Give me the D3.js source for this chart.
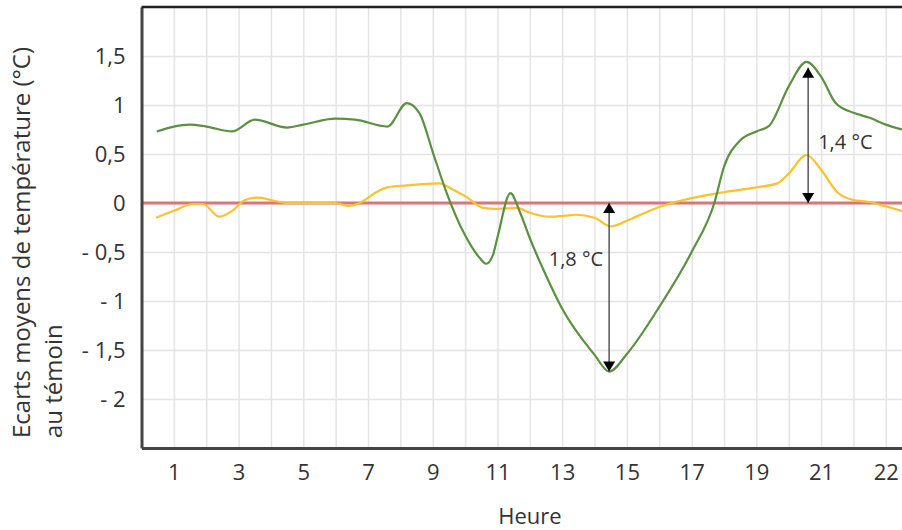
<!DOCTYPE html>
<html>
<head>
<meta charset="utf-8">
<script src="https://cdn.jsdelivr.net/npm/d3@7"></script>
<style>
  html, body { margin: 0; padding: 0; background: #fff; }
  svg { display: block; font-family: "Open Sans", sans-serif; }
</style>
</head>
<body>
<div id="vis"></div>
<script>
var greenHours = [0.47, 1, 1.5, 2, 2.8, 3.5, 4.5, 5, 6, 6.6, 7.6, 8.2, 8.6, 9, 9.4, 10, 10.45, 10.65, 10.85, 11, 11.4, 11.7, 12, 12.5, 13, 14, 14.45, 15, 16, 17, 17.7, 18, 18.5, 19, 19.4, 20, 20.55, 21, 21.45, 22, 22.5, 23, 23.5];
var greenValues = [0.73, 0.78, 0.80, 0.78, 0.73, 0.85, 0.77, 0.80, 0.86, 0.85, 0.78, 1.02, 0.91, 0.52, 0.13, -0.33, -0.56, -0.62, -0.54, -0.35, 0.10, -0.10, -0.36, -0.74, -1.08, -1.55, -1.72, -1.54, -1.06, -0.50, 0.00, 0.37, 0.64, 0.73, 0.79, 1.19, 1.44, 1.29, 1.02, 0.92, 0.87, 0.80, 0.75];

var yellowHours = [0.45, 1, 1.6, 1.9, 2.4, 2.8, 3.2, 3.6, 4, 4.5, 6, 6.4, 6.8, 7.2, 7.6, 8.2, 9.2, 9.6, 10.05, 10.55, 11, 11.6, 12, 12.6, 13.1, 13.4, 14, 14.5, 15.07, 16, 17, 18, 19, 19.65, 20, 20.55, 21, 21.5, 22, 22.5, 23, 23.5];
var yellowValues = [-0.15, -0.08, -0.01, -0.01, -0.14, -0.08, 0.03, 0.055, 0.03, 0.00, 0.00, -0.03, 0.01, 0.10, 0.16, 0.18, 0.20, 0.14, 0.06, -0.05, -0.06, -0.05, -0.10, -0.14, -0.13, -0.12, -0.15, -0.24, -0.17, -0.04, 0.05, 0.11, 0.16, 0.20, 0.30, 0.49, 0.34, 0.11, 0.03, 0.01, -0.035, -0.08];

var xTicks = [1, 3, 5, 7, 9, 11, 13, 15, 17, 19, 21, 23];
var xTickLabels = ["1", "3", "5", "7", "9", "11", "13", "15", "17", "19", "21", "22"];
var yTicks = [1.5, 1, 0.5, 0, -0.5, -1, -1.5, -2];
var yTickLabels = ["1,5", "1", "0,5", "0", "- 0,5", "- 1", "- 1,5", "- 2"];

// arrows: hour, from, to, label
var arrowHours = [14.45, 20.6];
var arrowFrom = [0, 0];
var arrowTo = [-1.72, 1.38];
var arrowLabels = ["1,8 °C", "1,4 °C"];

var margin = { top: 7, right: 0, bottom: 82, left: 141.5 },
    width = 902 - margin.left - margin.right,
    height = 530 - margin.top - margin.bottom;

var svg = d3.select("#vis")
    .append("svg")
    .attr("width", 902)
    .attr("height", 530);

var defs = svg.append("defs");
defs.append("clipPath").attr("id", "clip")
    .append("rect").attr("width", width).attr("height", height);

defs.append("marker")
    .attr("id", "head")
    .attr("viewBox", "0 0 10 12")
    .attr("refX", 10).attr("refY", 6)
    .attr("markerWidth", 12).attr("markerHeight", 12)
    .attr("markerUnits", "userSpaceOnUse")
    .attr("orient", "auto-start-reverse")
    .append("path")
    .attr("d", "M0,0 L10,6 L0,12 Z")
    .attr("fill", "#000");

var g = svg.append("g")
    .attr("transform", "translate(" + margin.left + "," + margin.top + ")");

var x = d3.scaleLinear().domain([0, 23.5]).range([0, width]);
var y = d3.scaleLinear().domain([-2.5, 2]).range([height, 0]);

// grid
g.append("g")
    .attr("class", "grid")
    .attr("transform", "translate(0," + height + ")")
    .call(d3.axisBottom(x).tickValues(d3.range(1, 24)).tickSize(-height).tickFormat(""))
    .call(function (s) { s.select(".domain").remove(); })
    .selectAll("line").attr("stroke", "#e4e4e4").attr("stroke-width", 1.5);

g.append("g")
    .attr("class", "grid")
    .call(d3.axisLeft(y).tickValues(yTicks).tickSize(-width).tickFormat(""))
    .call(function (s) { s.select(".domain").remove(); })
    .selectAll("line").attr("stroke", "#e4e4e4").attr("stroke-width", 1.5);

// zero line
g.append("line")
    .attr("x1", 0).attr("x2", width)
    .attr("y1", y(0)).attr("y2", y(0))
    .attr("stroke", "#d8767a")
    .attr("stroke-width", 3);

var line = d3.line()
    .x(function (d) { return x(d[0]); })
    .y(function (d) { return y(d[1]); })
    .curve(d3.curveMonotoneX);

var plot = g.append("g").attr("clip-path", "url(#clip)");

plot.append("path")
    .datum(d3.zip(yellowHours, yellowValues))
    .attr("d", line)
    .attr("fill", "none")
    .attr("stroke", "#fbc12e")
    .attr("stroke-width", 2.2);

plot.append("path")
    .datum(d3.zip(greenHours, greenValues))
    .attr("d", line)
    .attr("fill", "none")
    .attr("stroke", "#5a9140")
    .attr("stroke-width", 2.2);

// arrows
var arrows = d3.range(arrowHours.length);
g.selectAll(".arrow")
    .data(arrows)
    .enter()
    .append("line")
    .attr("class", "arrow")
    .attr("x1", function (i) { return x(arrowHours[i]); })
    .attr("x2", function (i) { return x(arrowHours[i]); })
    .attr("y1", function (i) { return y(arrowFrom[i]); })
    .attr("y2", function (i) { return y(arrowTo[i]); })
    .attr("stroke", "#555")
    .attr("stroke-width", 1.5)
    .attr("marker-start", "url(#head)")
    .attr("marker-end", "url(#head)");

g.selectAll(".arrow-label")
    .data(arrows)
    .enter()
    .append("text")
    .attr("class", "arrow-label")
    .attr("x", function (i) { return i == 0 ? x(arrowHours[i]) - 6 : x(arrowHours[i]) + 10; })
    .attr("y", function (i) { return i == 0 ? y(-0.57) : y(0.62); })
    .attr("dy", "0.35em")
    .attr("text-anchor", function (i) { return i == 0 ? "end" : "start"; })
    .attr("font-size", "20px")
    .attr("fill", "#333")
    .text(function (i) { return arrowLabels[i]; });

// axes
var xAxis = g.append("g")
    .attr("transform", "translate(0," + height + ")")
    .call(d3.axisBottom(x).tickValues(xTicks).tickSize(0).tickPadding(16)
        .tickFormat(function (d, i) { return xTickLabels[i]; }));
xAxis.select(".domain").attr("stroke", "#444").attr("stroke-width", 3);
xAxis.selectAll("text").attr("font-size", "22px").attr("fill", "#333").style("font-family", "Open Sans");

var yAxis = g.append("g")
    .call(d3.axisLeft(y).tickValues(yTicks).tickSize(0).tickPadding(16)
        .tickFormat(function (d, i) { return yTickLabels[i]; }));
yAxis.select(".domain").attr("stroke", "#444").attr("stroke-width", 3);
yAxis.selectAll("text").attr("font-size", "22px").attr("fill", "#333").style("font-family", "Open Sans");

// top border
g.append("line")
    .attr("x1", 0).attr("x2", width)
    .attr("y1", 0).attr("y2", 0)
    .attr("stroke", "#222").attr("stroke-width", 2.5);

// titles
var yTitle = svg.append("text")
    .attr("transform", "translate(30,438) rotate(-90)")
    .attr("font-size", "24px")
    .attr("fill", "#333");
yTitle.append("tspan").attr("x", 0).attr("y", 0).text("Ecarts moyens de température (°C)");
yTitle.append("tspan").attr("x", 0).attr("y", 32).text("au témoin");

svg.append("text")
    .attr("x", 530)
    .attr("y", 524)
    .attr("text-anchor", "middle")
    .attr("font-size", "22px")
    .attr("fill", "#333")
    .text("Heure");
</script>
</body>
</html>
